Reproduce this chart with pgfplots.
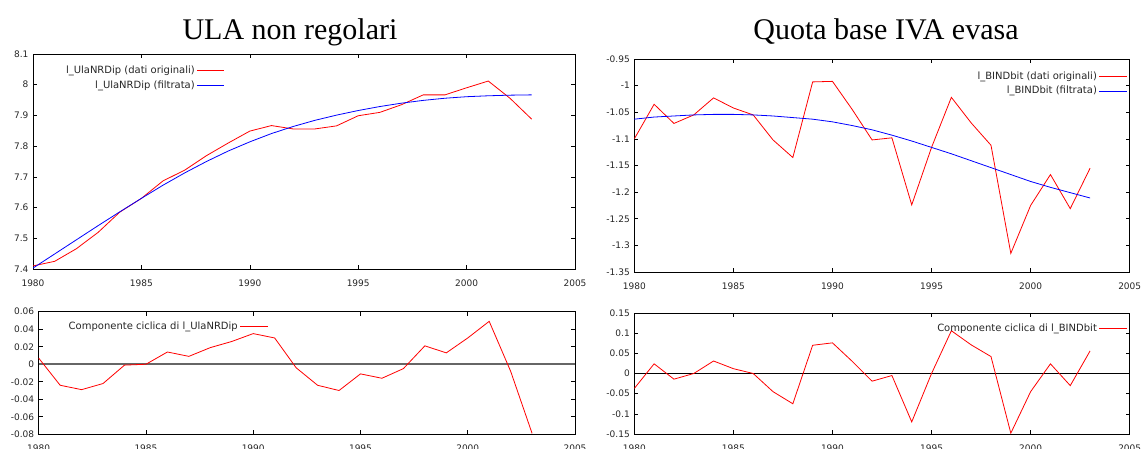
\documentclass[border=0pt]{standalone}
\usepackage{fontspec}
\setmainfont{Liberation Serif}
\newfontfamily\dv{DejaVu Sans}
\usepackage{pgfplots}
\usepackage{pgfplotstable}
\pgfplotsset{compat=1.18}

\pgfplotstableread{
year orig trend cyc
1980 7.410 7.403 0.007
1981 7.425 7.449 -0.024
1982 7.466 7.495 -0.029
1983 7.519 7.541 -0.022
1984 7.585 7.586 -0.001
1985 7.630 7.630 0.000
1986 7.687 7.673 0.014
1987 7.722 7.713 0.009
1988 7.769 7.750 0.019
1989 7.810 7.784 0.026
1990 7.849 7.814 0.035
1991 7.867 7.841 0.030
1992 7.856 7.864 -0.004
1993 7.856 7.884 -0.024
1994 7.866 7.901 -0.030
1995 7.899 7.916 -0.011
1996 7.910 7.929 -0.016
1997 7.935 7.940 -0.005
1998 7.967 7.949 0.021
1999 7.967 7.956 0.013
2000 7.990 7.961 0.030
2001 8.012 7.964 0.049
2002 7.956 7.966 -0.008
2003 7.888 7.967 -0.079
}\ula

\pgfplotstableread{
year orig trend cyc
1980 -1.100 -1.063 -0.037
1981 -1.035 -1.059 0.024
1982 -1.071 -1.057 -0.014
1983 -1.055 -1.055 0.000
1984 -1.023 -1.054 0.031
1985 -1.042 -1.054 0.012
1986 -1.055 -1.055 0.000
1987 -1.102 -1.057 -0.045
1988 -1.135 -1.060 -0.075
1989 -0.993 -1.063 0.070
1990 -0.992 -1.068 0.076
1991 -1.045 -1.075 0.030
1992 -1.102 -1.083 -0.019
1993 -1.098 -1.093 -0.005
1994 -1.224 -1.104 -0.120
1995 -1.116 -1.116 0.000
1996 -1.022 -1.128 0.106
1997 -1.070 -1.141 0.071
1998 -1.112 -1.154 0.042
1999 -1.315 -1.167 -0.148
2000 -1.225 -1.180 -0.045
2001 -1.167 -1.191 0.024
2002 -1.231 -1.201 -0.030
2003 -1.155 -1.211 0.056
}\iva

\pgfplotsset{
  gp/.style={
    scale only axis,
    xmin=1980, xmax=2005,
    xtick={1980,1985,1990,1995,2000,2005},
    scaled ticks=false,
    tick align=inside,
    major tick length=4pt,
    axis line style={line width=0.9pt},
    every tick/.style={black, line width=0.6pt},
    tick label style={font=\dv\fontsize{9}{10}\selectfont, text=black!85},
    xticklabel style={yshift=-7pt},
    yticklabel style={xshift=-1pt},
    /pgf/number format/assume math mode=true,
    /pgf/number format/1000 sep={},
    /pgf/number format/fixed,
    legend style={draw=none, fill=none, font=\dv\fontsize{10}{11}\selectfont,
      text=black!85, legend cell align=right, row sep=1.5pt, inner sep=1pt},
    legend plot pos=right,
    legend image post style={xscale=1.6},
  }
}

\begin{document}
\begin{tikzpicture}[x=1pt,y=1pt]

\node[font=\fontsize{30}{32}\selectfont, anchor=base] at (290,408) {ULA non regolari};
\node[font=\fontsize{30}{32}\selectfont, anchor=base] at (886,408) {Quota base IVA evasa};

% top left
\begin{axis}[gp, at={(33pt,179pt)}, anchor=south west, width=542pt, height=215pt,
  ymin=7.4, ymax=8.1, ytick={7.4,7.5,7.6,7.7,7.8,7.9,8,8.1},
  legend style={at={(0.055,0.96)}, anchor=north west}]
\addplot[red, line width=0.8pt] table[x=year,y=orig] {\ula};
\addlegendentry{l\_UlaNRDip (dati originali)}
\addplot[blue, line width=0.8pt] table[x=year,y=trend] {\ula};
\addlegendentry{l\_UlaNRDip (filtrata)}
\end{axis}

% bottom left
\begin{axis}[gp, at={(38.7pt,13.7pt)}, anchor=south west, width=536.3pt, height=122.6pt,
  ymin=-0.08, ymax=0.06, ytick={-0.08,-0.06,-0.04,-0.02,0,0.02,0.04,0.06},
  legend style={at={(0.05,0.94)}, anchor=north west}]
\addplot[black!60, line width=1.8pt, forget plot] coordinates {(1980,0) (2005,0)};
\addplot[red, line width=0.8pt] table[x=year,y=cyc] {\ula};
\addlegendentry{Componente ciclica di l\_UlaNRDip}
\end{axis}

% top right
\begin{axis}[gp, at={(634.3pt,176pt)}, anchor=south west, width=495.4pt, height=213pt,
  ymin=-1.35, ymax=-0.95, ytick={-1.35,-1.3,-1.25,-1.2,-1.15,-1.1,-1.05,-1,-0.95},
  legend style={at={(0.997,0.955)}, anchor=north east}]
\addplot[red, line width=0.8pt] table[x=year,y=orig] {\iva};
\addlegendentry{l\_BINDbit (dati originali)}
\addplot[blue, line width=0.8pt] table[x=year,y=trend] {\iva};
\addlegendentry{l\_BINDbit (filtrata)}
\end{axis}

% bottom right
\begin{axis}[gp, at={(634.3pt,14pt)}, anchor=south west, width=495.4pt, height=121pt,
  ymin=-0.15, ymax=0.15, ytick={-0.15,-0.1,-0.05,0,0.05,0.1,0.15},
  legend style={at={(0.997,0.94)}, anchor=north east}]
\addplot[black, line width=1pt, forget plot] coordinates {(1980,0) (2005,0)};
\addplot[red, line width=0.8pt] table[x=year,y=cyc] {\iva};
\addlegendentry{Componente ciclica di l\_BINDbit}
\end{axis}

\pgfresetboundingbox
\path[use as bounding box] (0,0) rectangle (1142,448);
\end{tikzpicture}
\end{document}
